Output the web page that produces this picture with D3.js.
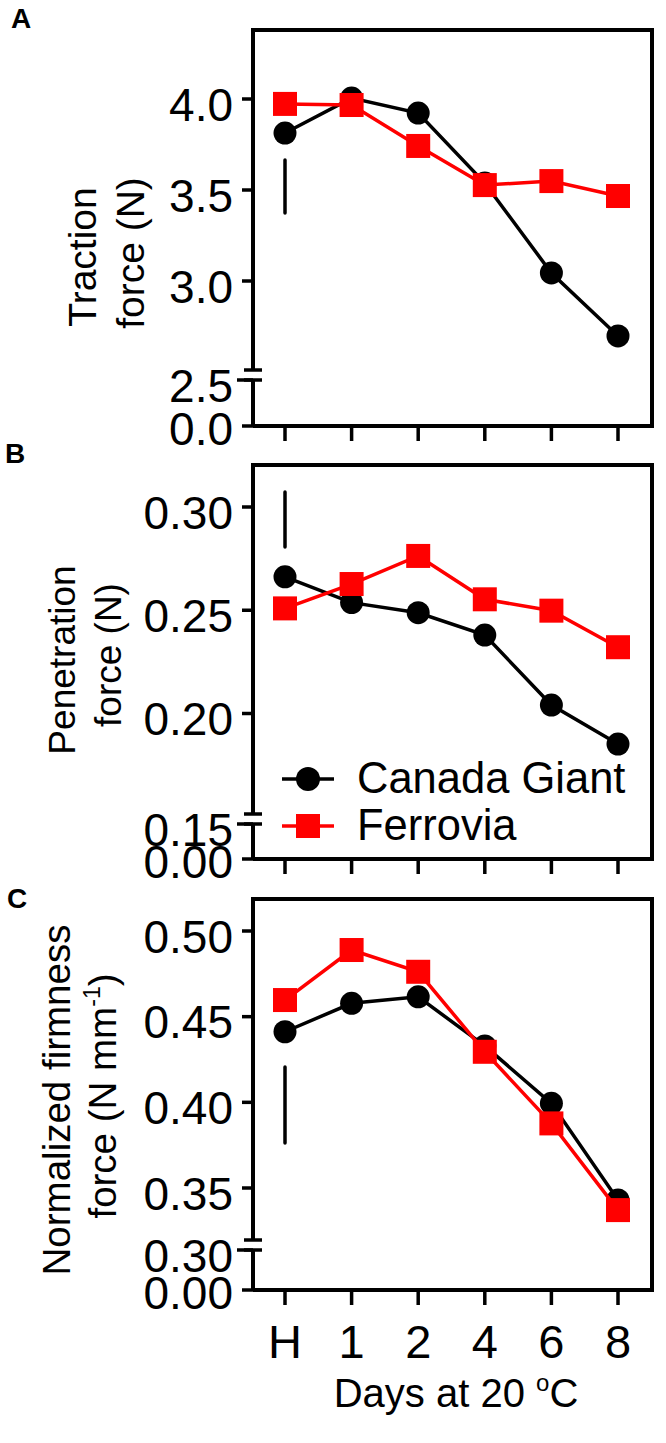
<!DOCTYPE html>
<html><head><meta charset="utf-8">
<script src="https://cdn.jsdelivr.net/npm/d3@7"></script>
<style>
body{margin:0;background:#fff;}
svg{display:block;}
text{font-family:"Liberation Sans",Arial,Helvetica,sans-serif;fill:#000;}
</style>
</head><body>
<svg id="chart" width="666" height="1443"></svg>
<script>
// ---------------- data ----------------
const days = ["H", "1", "2", "4", "6", "8"];
const seriesNames = ["Canada Giant", "Ferrovia"];

const tractionCanada   = [3.813, 4.005, 3.923, 3.538, 3.044, 2.698];
const tractionFerrovia = [3.973, 3.967, 3.742, 3.527, 3.549, 3.467];
const tractionLSD      = [3.374, 3.665];
const tractionTicks    = [0, 2.5, 3.0, 3.5, 4.0];
const tractionLabels   = ["0.0", "2.5", "3.0", "3.5", "4.0"];

const penetrationCanada   = [0.2662, 0.2537, 0.2488, 0.2380, 0.2041, 0.1852];
const penetrationFerrovia = [0.2509, 0.2627, 0.2763, 0.2553, 0.2498, 0.2321];
const penetrationLSD      = [0.2806, 0.3073];
const penetrationTicks    = [0, 0.15, 0.20, 0.25, 0.30];
const penetrationLabels   = ["0.00", "0.15", "0.20", "0.25", "0.30"];

const firmnessCanada   = [0.4412, 0.4578, 0.4616, 0.4329, 0.3994, 0.3430];
const firmnessFerrovia = [0.4597, 0.4889, 0.4762, 0.4295, 0.3877, 0.3371];
const firmnessLSD      = [0.3762, 0.4206];
const firmnessTicks    = [0, 0.30, 0.35, 0.40, 0.45, 0.50];
const firmnessLabels   = ["0.00", "0.30", "0.35", "0.40", "0.45", "0.50"];

// ---------------- layout ----------------
const svg = d3.select("#chart");
const xL = 253, xR = 652;
const x = d3.scalePoint().domain(days).range([285, 618]);
const RED = "#ff0000", BLACK = "#000";

const panels = [
  { letter: "A", letterPos: [11, 28], top: 30,
    upDomain: [3.0, 4.0], upRange: [281, 99],
    lowDomain: [0, 2.5], lowRange: [426, 380], brk: 2.5,
    ticks: tractionTicks, labels: tractionLabels,
    canada: tractionCanada, ferrovia: tractionFerrovia, lsd: tractionLSD,
    titles: [{t: ["Traction"], bx: 96, cy: 257, fs: 39}, {t: ["force (N)"], bx: 144, cy: 253, fs: 39}] },
  { letter: "B", letterPos: [5, 463], top: 465,
    upDomain: [0.20, 0.30], upRange: [713.5, 507],
    lowDomain: [0, 0.15], lowRange: [859, 824], brk: 0.15,
    ticks: penetrationTicks, labels: penetrationLabels,
    canada: penetrationCanada, ferrovia: penetrationFerrovia, lsd: penetrationLSD,
    titles: [{t: ["Penetration"], bx: 75, cy: 660, fs: 37}, {t: ["force (N)"], bx: 121, cy: 655, fs: 37}],
    legend: true },
  { letter: "C", letterPos: [7, 908], top: 899,
    upDomain: [0.35, 0.50], upRange: [1188, 931],
    lowDomain: [0, 0.30], lowRange: [1290, 1250], brk: 0.30,
    ticks: firmnessTicks, labels: firmnessLabels,
    canada: firmnessCanada, ferrovia: firmnessFerrovia, lsd: firmnessLSD,
    titles: [{t: ["Normalized firmness"], bx: 70, cy: 1100, fs: 38.5}, {t: ["force (N mm", "-1", ")"], bx: 116, cy: 1096, fs: 38.5}],
    xLabels: true }
];

panels.forEach(p => {
  const yUp = d3.scaleLinear().domain(p.upDomain).range(p.upRange);
  const yLow = d3.scaleLinear().domain(p.lowDomain).range(p.lowRange);
  const y = v => (v > p.brk ? yUp(v) : yLow(v));
  const g = svg.append("g");
  const bottom = yLow(0);
  const yb = yLow(p.brk);      // lower break mark
  const ya = yb - 10;          // upper break mark
  const sw = 4;

  // frame
  g.append("line").attr("x1", xL - 2).attr("x2", xR + 2).attr("y1", p.top).attr("y2", p.top)
    .attr("stroke", BLACK).attr("stroke-width", sw);
  g.append("line").attr("x1", xR).attr("x2", xR).attr("y1", p.top).attr("y2", bottom + 2)
    .attr("stroke", BLACK).attr("stroke-width", sw);
  g.append("line").attr("x1", xL).attr("x2", xR + 2).attr("y1", bottom).attr("y2", bottom)
    .attr("stroke", BLACK).attr("stroke-width", sw);
  // left axis with break
  g.append("line").attr("x1", xL).attr("x2", xL).attr("y1", p.top - 2).attr("y2", ya)
    .attr("stroke", BLACK).attr("stroke-width", sw);
  g.append("line").attr("x1", xL).attr("x2", xL).attr("y1", yb).attr("y2", bottom)
    .attr("stroke", BLACK).attr("stroke-width", sw);
  [ya, yb].forEach(yy => {
    g.append("line").attr("x1", xL - 9).attr("x2", xL + 9).attr("y1", yy).attr("y2", yy)
      .attr("stroke", BLACK).attr("stroke-width", 3.5);
  });

  // y ticks + labels
  p.ticks.forEach((v, i) => {
    const ty = y(v);
    g.append("line").attr("x1", v === p.brk ? xL - 16 : xL - 11).attr("x2", xL)
      .attr("y1", ty).attr("y2", ty).attr("stroke", BLACK).attr("stroke-width", 3.5);
    const off = v === 0 ? 19 : 21.5;
    g.append("text").attr("x", 233).attr("y", ty + off).attr("text-anchor", "end")
      .attr("font-size", 46).text(p.labels[i]);
  });

  // x ticks
  days.forEach(d => {
    g.append("line").attr("x1", x(d)).attr("x2", x(d)).attr("y1", bottom).attr("y2", bottom + 15)
      .attr("stroke", BLACK).attr("stroke-width", 3.5);
  });

  // LSD bar
  g.append("line").attr("x1", x("H")).attr("x2", x("H"))
    .attr("y1", y(p.lsd[0])).attr("y2", y(p.lsd[1]))
    .attr("stroke", BLACK).attr("stroke-width", 3.5).attr("stroke-linecap", "round");

  // series
  const line = d3.line().x((d, i) => x(days[i])).y(d => y(d));
  g.append("path").datum(p.canada).attr("d", line).attr("fill", "none")
    .attr("stroke", BLACK).attr("stroke-width", 3.5);
  g.selectAll("circle.c").data(p.canada).join("circle").attr("class", "c")
    .attr("cx", (d, i) => x(days[i])).attr("cy", d => y(d)).attr("r", 11.5).attr("fill", BLACK);
  g.append("path").datum(p.ferrovia).attr("d", line).attr("fill", "none")
    .attr("stroke", RED).attr("stroke-width", 3.5);
  g.selectAll("rect.f").data(p.ferrovia).join("rect").attr("class", "f")
    .attr("x", (d, i) => x(days[i]) - 12).attr("y", d => y(d) - 12)
    .attr("width", 24).attr("height", 24).attr("fill", RED);

  // panel letter
  g.append("text").attr("x", p.letterPos[0]).attr("y", p.letterPos[1])
    .attr("font-size", 28).attr("font-weight", "bold").text(p.letter);

  // y titles
  p.titles.forEach(tt => {
    const t = g.append("text").attr("text-anchor", "middle").attr("font-size", tt.fs)
      .attr("transform", `translate(${tt.bx},${tt.cy}) rotate(-90)`);
    if (tt.t.length === 1) t.text(tt.t[0]);
    else {
      t.append("tspan").text(tt.t[0]);
      t.append("tspan").attr("font-size", tt.fs * 0.6).attr("dy", -tt.fs * 0.42).text(tt.t[1]);
      t.append("tspan").attr("dy", tt.fs * 0.42).text(tt.t[2]);
    }
  });

  // legend
  if (p.legend) {
    const lg = g.append("g");
    const rows = [{name: seriesNames[0], col: BLACK, yy: 779, shape: "c"},
                  {name: seriesNames[1], col: RED, yy: 826, shape: "s"}];
    rows.forEach(r => {
      lg.append("line").attr("x1", 282).attr("x2", 334).attr("y1", r.yy).attr("y2", r.yy)
        .attr("stroke", r.col).attr("stroke-width", 3.5);
      if (r.shape === "c") lg.append("circle").attr("cx", 308).attr("cy", r.yy).attr("r", 12).attr("fill", r.col);
      else lg.append("rect").attr("x", 296).attr("y", r.yy - 12).attr("width", 24).attr("height", 24).attr("fill", r.col);
      lg.append("text").attr("x", 357).attr("y", r.yy + 14).attr("font-size", 43.5).text(r.name);
    });
  }

  // x tick labels + axis title
  if (p.xLabels) {
    days.forEach(d => {
      g.append("text").attr("x", x(d)).attr("y", 1358).attr("text-anchor", "middle")
        .attr("font-size", 47).text(d);
    });
    const xt = g.append("text").attr("x", 456).attr("y", 1407).attr("text-anchor", "middle")
      .attr("font-size", 40);
    xt.append("tspan").text("Days at 20 ");
    xt.append("tspan").attr("font-size", 24).attr("dy", -16).text("o");
    xt.append("tspan").attr("dy", 16).text("C");
  }
});
</script>
</body></html>
